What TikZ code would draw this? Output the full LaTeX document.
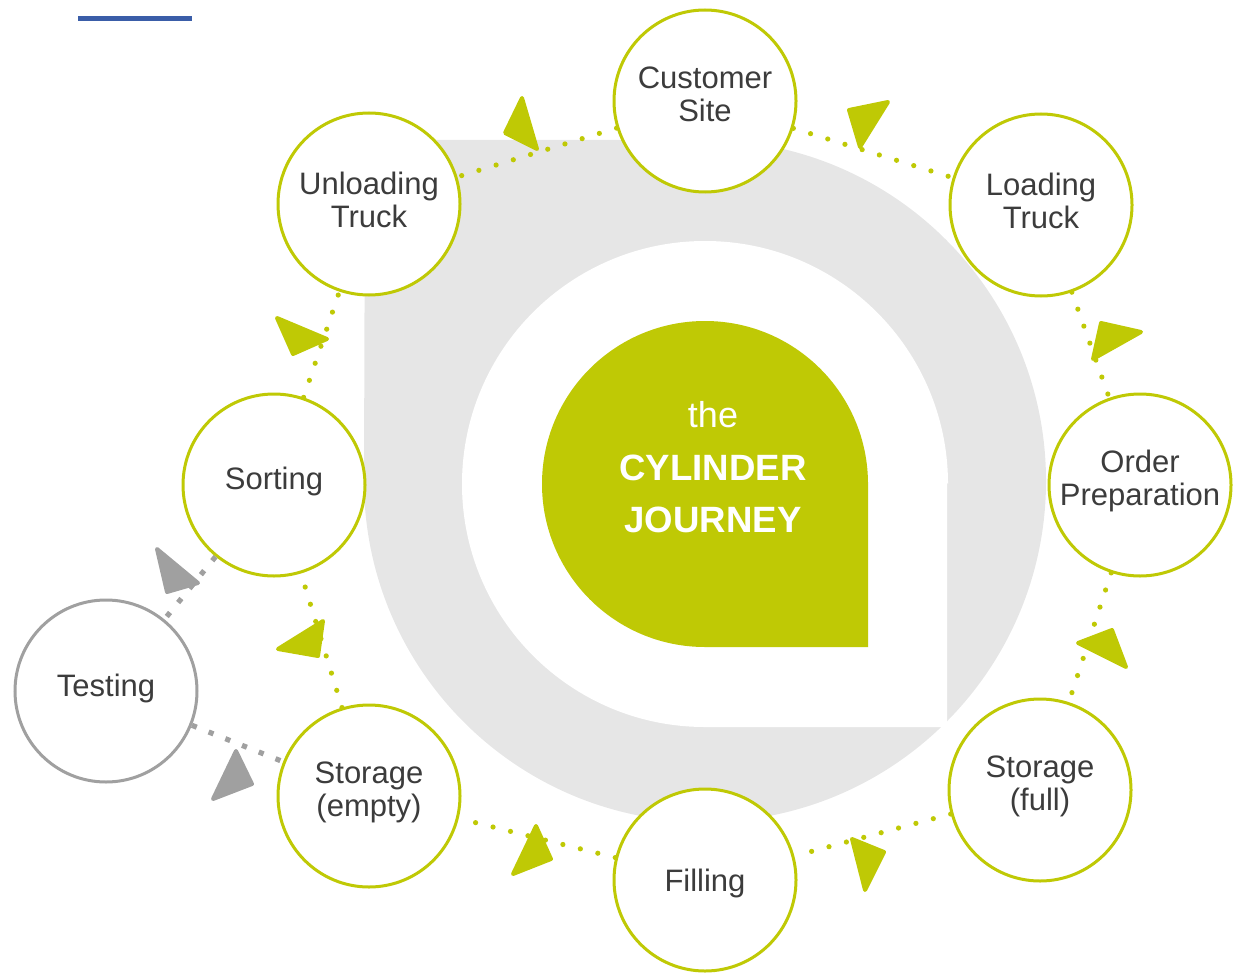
\documentclass[tikz,border=0pt]{standalone}
\usepackage{fontspec}
\setmainfont{Liberation Sans}
\definecolor{cgreen}{RGB}{191,201,5}
\definecolor{cgray}{RGB}{160,160,160}
\definecolor{cdark}{RGB}{60,60,60}
\definecolor{cshade}{RGB}{230,230,230}
\definecolor{cblue}{RGB}{58,93,168}
\newcommand{\steplabel}[2][-2.5pt]{\raisebox{#1}[0pt][0pt]{\begin{tabular}{@{}c@{}}#2\end{tabular}}}
\begin{document}
\begin{tikzpicture}[x=0.5pt, y=-0.5pt,
		step node/.style={circle, draw=cgreen, line width=1.5pt, fill=white, minimum size=91pt, inner sep=0pt, text=cdark, font=\fontsize{15.5}{16.5}\selectfont},
		test node/.style={step node, draw=cgray},
		flow/.style={cgreen, line width=2.6pt, line cap=round, dash pattern=on 0pt off 9pt},
		test flow/.style={cgray, line width=2.6pt, dash pattern=on 2.6pt off 6.4pt},
		head/.style={fill=cgreen, draw=cgreen, line width=2pt, line join=round},
		test head/.style={head, fill=cgray, draw=cgray},
		title/.style={anchor=base, text=white, font=\fontsize{18}{20}\selectfont}]
			\useasboundingbox (0,0) rectangle (1240,973);
			\draw[cblue, line width=2.5pt] (78,19) -- (192,19);
			% ring, hole and drop in the middle
			\fill[cshade] (365,140) -- (705,140) arc[start angle=90, end angle=-180, radius=170.5pt] -- cycle;
			\fill[white] (947,482) -- (947,727) -- (705,727) arc[start angle=-90, end angle=-360, radius=121.5pt] -- cycle;
			\fill[cgreen] (868,482) -- (868,647) -- (705,647) arc[start angle=-90, end angle=-360, radius=81.5pt] -- cycle;
			\node[title] (the) at (713,427) {the};
			\node[title, font=\fontsize{18.3}{20}\selectfont\bfseries] (cylinder) at (713,480) {CYLINDER};
			\node[title, font=\fontsize{18.3}{20}\selectfont\bfseries] (journey) at (713,532) {JOURNEY};
			% steps
			\node[step node] (customer) at (705,101) {\steplabel[-2.4pt]{Customer\\Site}};
			\node[step node] (loading) at (1041,205) {\steplabel[-3.6pt]{Loading\\Truck}};
			\node[step node] (order) at (1140,485) {\steplabel[-2.2pt]{Order\\Preparation}};
			\node[step node] (full) at (1040,790) {\steplabel{Storage\\(full)}};
			\node[step node] (filling) at (705,880) {\steplabel[-6.1pt]{Filling}};
			\node[step node] (empty) at (369,796) {\steplabel{Storage\\(empty)}};
			\node[step node] (sorting) at (274,485) {\steplabel[-2.6pt]{Sorting}};
			\node[step node] (unloading) at (369,204) {\steplabel[-3.6pt]{Unloading\\Truck}};
			\node[test node] (testing) at (106,691) {\steplabel[-2.9pt]{Testing}};
			\foreach \a/\b in {customer/unloading, customer/loading, loading/order, order/full,
			  full/filling, filling/empty, empty/sorting, sorting/unloading}{
			    \draw[flow] (\a) -- (\b);
			}
			\draw[test flow] (sorting) -- (testing);
			\draw[test flow] (testing) -- (empty);
			\foreach \p/\q/\r in {{522,98}/{537,149}/{505,133}, {849,110}/{888,102}/{860,147},
			  {1101,323}/{1141,332}/{1093,359}, {1078,643}/{1112,630}/{1126,667},
			  {852,839}/{884,852}/{865,890}, {536,826}/{551,859}/{513,874},
			  {278,649}/{323,621}/{318,656}, {277,318}/{327,339}/{293,354}}{
			    \filldraw[head] (\p) -- (\q) -- (\r) -- cycle;
			}
			\filldraw[test head] (157,549) -- (198,583) -- (167,592) -- cycle;
			\filldraw[test head] (236,751) -- (252,784) -- (213,799) -- cycle;
		\end{tikzpicture}
\end{document}
